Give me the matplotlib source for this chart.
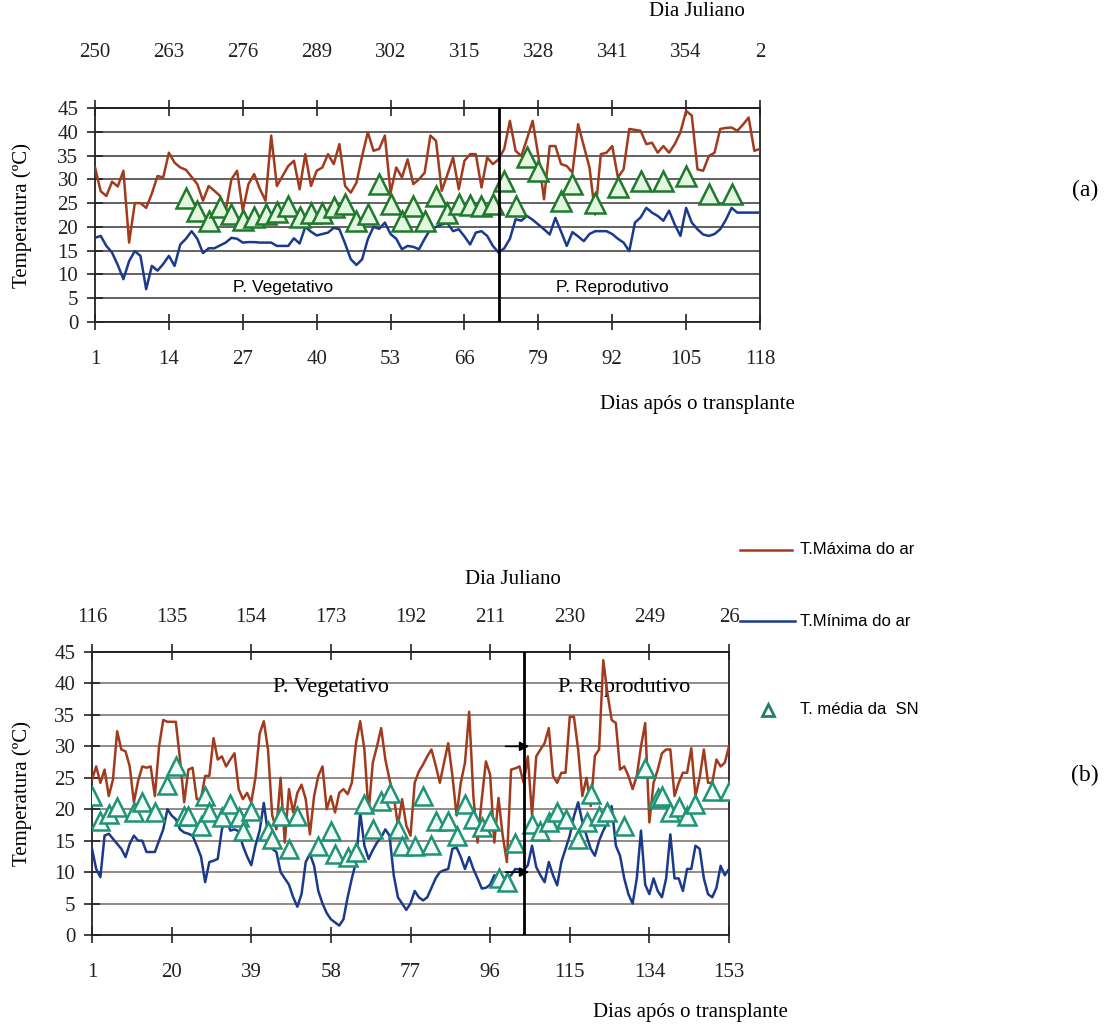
import numpy as np
import matplotlib
matplotlib.use("Agg")
import matplotlib.pyplot as plt
from matplotlib.lines import Line2D

# ---- panel (a): dias 1..118 (Dia Juliano 250..2) ----
dias_a = np.arange(1, 119)
tmax_a = [32.5, 27.5, 26.5, 29.5, 28.5, 31.8, 16.7, 25, 25, 24,
          27, 30.7, 30.4, 35.6, 33.5, 32.5, 32, 30.5, 29, 25.5,
          28.6, 27.6, 26.5, 23.4, 30, 31.8, 23.4, 29, 31.1, 28,
          25.5, 39.2, 28.6, 30.7, 32.8, 33.9, 27.9, 35.3, 28.6, 31.8,
          32.5, 35.3, 33.2, 37.4, 28.6, 27.2, 29.3, 34.9, 39.9, 36,
          36.4, 39.2, 27.2, 32.5, 30.4, 34.2, 29, 30, 31.4, 39.2,
          38.1, 27.6, 31, 34.6, 27.9, 33.9, 35.3, 35.3, 28.3, 34.6,
          33.2, 34.2, 36.4, 42.3, 36, 34.9, 38.5, 42.3, 34.9, 25.8,
          37, 37, 33.2, 32.8, 31.4, 41.6, 37, 32.5, 22.6, 35.3,
          35.6, 37, 30.4, 32.1, 40.6, 40.4, 40.2, 37.4, 37.7, 35.6,
          37, 35.6, 37.4, 39.9, 44.4, 43.4, 32.1, 31.8, 34.9, 35.6,
          40.6, 40.8, 40.9, 40.2, 41.5, 43, 36, 36.4]
tmin_a = [17.7, 18.1, 16, 14.6, 12, 9, 12.8, 14.9, 13.9, 6.9,
          11.8, 10.8, 12.2, 13.9, 11.8, 16.3, 17.5, 19.1, 17.5, 14.5,
          15.5, 15.5, 16.1, 16.7, 17.7, 17.5, 16.7, 16.8, 16.8, 16.7,
          16.7, 16.7, 16, 16, 16, 17.6, 16.5, 20, 19, 18.2,
          18.5, 18.8, 19.8, 19.5, 16.5, 13.2, 12, 13.2, 17.4, 20,
          19.6, 20.9, 18.5, 17.5, 15.3, 16, 15.8, 15.3, 17.5, 19.5,
          20, 20.5, 20.8, 19.1, 19.5, 18, 16.3, 18.8, 19.1, 18.1,
          16, 14.6, 15.5, 17.5, 21.6, 21.3, 22.3, 21.5, 20.5, 19.5,
          18.4, 21.9, 19, 16, 18.9, 18, 17, 18.5, 19.1, 19.1,
          19.1, 18.5, 17.5, 16.7, 14.9, 20.9, 22, 24, 23, 22.3,
          21.3, 23.4, 20.5, 18.1, 24, 20.9, 19.5, 18.4, 18.1, 18.5,
          19.5, 21.5, 24, 23, 23, 23, 23, 23]
sn_dias_a = [17, 19, 21, 23, 25, 27, 29, 31, 33, 35, 37, 39, 41, 43, 45, 47,
             49, 51, 53, 55, 57, 59, 61, 63, 65, 67, 69, 71, 73, 75, 77, 79,
             83, 85, 89, 93, 97, 101, 105, 109, 113]
sn_a = [26, 23.4, 21.3, 24.1, 22.7, 21.5, 22, 22.7, 23.1, 24.4, 22, 23, 23,
        24.1, 24.8, 21.3, 22.7, 29, 24.8, 21.3, 24.4, 21.3, 26.5, 23, 24.8,
        24.5, 24.4, 24.8, 29.7, 24.4, 34.6, 31.8, 25.5, 29, 25.1, 28.3, 29.7,
        29.7, 30.7, 26.9, 26.9]
ticks_a = [1, 14, 27, 40, 53, 66, 79, 92, 105, 118]
juliano_a = ["250", "263", "276", "289", "302", "315", "328", "341", "354", "2"]
divisa_a = 72

# ---- panel (b): dias 1..153 (Dia Juliano 116..268) ----
dias_b = np.arange(1, 154)
tmax_b = [24.7, 26.8, 24.2, 26.3, 22.1, 24.7, 32.4, 29.5, 29.2, 26.8,
          21.1, 24.5, 26.8, 26.6, 26.8, 22.1, 30, 34.2, 33.9, 33.9,
          33.9, 27.9, 21.1, 26.3, 26.6, 21.6, 21.6, 25.3, 25.3, 31.3,
          27.9, 28.4, 26.8, 27.9, 28.9, 23.2, 21.6, 22.6, 21.1, 25,
          32, 34, 29.5, 19, 16.8, 25, 14.7, 23.2, 19.5, 22.6,
          23.9, 21.6, 16, 22.1, 25.3, 26.8, 20, 22.1, 19.5, 22.6,
          23.2, 22.4, 24.2, 30.5, 34, 29.5, 19.5, 27.4, 30, 32.9,
          27.9, 24.7, 22.1, 17.4, 21.6, 17.4, 15.8, 24.2, 26, 27.1,
          28.4, 29.5, 27, 24.2, 27.4, 30.5, 25.3, 19, 24.2, 27.4,
          35.5, 22.1, 14.7, 21.6, 27.6, 25.5, 14.7, 21.8, 15.8, 11.6,
          26.3, 26.5, 26.8, 24.2, 28.4, 19, 28.4, 29.5, 30.5, 32.9,
          25.3, 24.2, 25.8, 25.8, 34.7, 34.7, 29.5, 22.1, 25, 20.5,
          28.5, 29.5, 43.7, 38.4, 34.2, 33.7, 26.3, 26.8, 25.3, 23.2,
          25.3, 30, 33.7, 17.9, 24.2, 26.3, 28.9, 29.5, 29.5, 22.1,
          24.2, 25.8, 25.8, 29.7, 22.1, 25, 29.5, 24.2, 24.2, 27.9,
          26.8, 27.4, 30]
tmin_b = [13.7, 10.5, 9.2, 15.8, 16.1, 15.3, 14.5, 13.7, 12.4, 14.5,
          15.8, 15, 15, 13.2, 13.2, 13.2, 15, 16.8, 20, 19,
          18.4, 16.8, 16.3, 16.1, 15.8, 14.2, 12.5, 8.4, 11.6, 11.8,
          12.1, 16.8, 18.9, 16.6, 16.8, 16.5, 14.2, 12.5, 11.1, 14.2,
          16.6, 21, 16, 13.7, 13.2, 10, 9, 8, 6, 4.5,
          6.5, 11.6, 12.9, 11, 7, 5, 3.5, 2.5, 2, 1.5,
          2.5, 6, 9, 11.6, 19.5, 14.2, 12.1, 13.5, 14.7, 15.5,
          16.8, 15.8, 9.5, 6, 5, 4, 5, 7, 6, 5.5,
          6, 7.5, 9, 10, 10.3, 10.5, 13.7, 13.9, 12.4, 10.5,
          12.4, 10.5, 9, 7.4, 7.5, 8, 9.5, 9.2, 9, 9.2,
          9.5, 10.5, 10.4, 10.3, 11.1, 14.2, 10.8, 9.5, 8.4, 11.6,
          9.5, 7.9, 11.6, 13.7, 15.8, 18.9, 21.1, 18, 15.8, 13.7,
          12.6, 15, 16.6, 17.9, 20.5, 14.2, 12.6, 9, 6.5, 5,
          9, 16.6, 8, 6.5, 9, 7, 6, 9, 16, 9,
          9, 7, 10.5, 10.5, 14.2, 13.7, 9, 6.5, 6, 7.5,
          11, 9.5, 10.5]
sn_dias_b = [1, 3, 5, 7, 11, 13, 16, 19, 21, 23, 24, 27, 28, 29, 32, 34, 36,
             37, 39, 43, 44, 46, 48, 50, 55, 58, 59, 62, 64, 66, 68, 70, 72,
             74, 75, 78, 80, 82, 83, 86, 88, 90, 92, 94, 96, 98, 100, 102,
             106, 108, 110, 112, 114, 117, 119, 120, 122, 124, 128, 133, 136,
             137, 139, 141, 143, 145, 149, 153]
sn_b = [22.1, 18.2, 19.2, 20.3, 19.5, 21.1, 19.5, 23.9, 26.8, 18.9, 18.9,
        17.4, 22.1, 19.5, 18.7, 20.8, 18.7, 16.6, 19.7, 16.6, 15.3, 19, 13.7,
        19, 14.2, 16.6, 12.9, 12.4, 13.2, 20.8, 16.8, 21.3, 22.6, 16.8, 14.2,
        14.2, 22.1, 14.3, 18.2, 18.2, 15.8, 20.8, 18.4, 17.1, 18.2, 9, 8.5,
        14.7, 17.6, 16.6, 17.9, 19.5, 18.4, 15.3, 17.9, 22.4, 18.9, 19.5,
        17.4, 26.6, 21.8, 22.1, 19.5, 20.3, 18.9, 20.8, 22.9, 22.9]
ticks_b = [1, 20, 39, 58, 77, 96, 115, 134, 153]
juliano_b = ["116", "135", "154", "173", "192", "211", "230", "249", "26"]
divisa_b = 104
setas_b = [30, 10]

yticks = list(range(0, 50, 5))

W, H = 1109, 1034
SERIF = ["Liberation Serif", "DejaVu Serif"]
SANS = ["Liberation Sans", "DejaVu Sans"]
plt.rcParams["font.family"] = SERIF

C_MAX = "#a23b1e"
C_MIN = "#1b3a8c"


def fx(x):
    return x / W


def fy(y):
    return 1 - y / H


fig = plt.figure(figsize=(W / 100, H / 100), dpi=100)


def painel(rect, dias, tmax, tmin, sd, sn, ticks, jul, div, top_pad,
           grid_color, tri_edge, tri_face, ms):
    l, t, r, b = rect
    ax = fig.add_axes([fx(l), fy(b), fx(r) - fx(l), fy(t) - fy(b)])
    ax.set_xlim(dias[0], dias[-1])
    ax.set_ylim(0, 45)
    ax.set_yticks(yticks)
    ax.set_xticks(ticks)
    ax.yaxis.grid(True, color=grid_color, lw=1.3)
    ax.set_axisbelow(True)
    ax.plot(dias, tmax, color=C_MAX, lw=1.8, zorder=3)
    ax.plot(dias, tmin, color=C_MIN, lw=1.8, zorder=3)
    ax.plot(sd, sn, ls="none", marker="^", ms=ms, mfc=tri_face,
            mec=tri_edge, mew=1.8, zorder=4)
    ax.axvline(div, color="black", lw=2, zorder=5)
    for s in ax.spines.values():
        s.set_color("#222222")
        s.set_linewidth(1.3)
    ax.tick_params(axis="both", direction="inout", length=12, width=1.2,
                   labelsize=15, colors="#222222")
    ax.tick_params(axis="x", pad=14)
    ax.tick_params(axis="y", pad=6)
    ax.set_xticklabels([str(v) for v in ticks])
    sec = ax.secondary_xaxis("top")
    sec.set_xticks(ticks, labels=jul)
    sec.tick_params(direction="inout", length=12, width=1.2, labelsize=15,
                    pad=top_pad, colors="#222222")
    sec.spines["top"].set_linewidth(1.3)
    return ax


ax_a = painel((95, 108, 760, 322), dias_a, tmax_a, tmin_a, sn_dias_a, sn_a,
              ticks_a, juliano_a, divisa_a, 27, "#555555", "#1f7a2c",
              "#e2f6e0", 14)
ax_a.text(34, 7.3, "P. Vegetativo", family=SANS, fontsize=12.5,
          ha="center", va="center")
ax_a.text(92, 7.3, "P. Reprodutivo", family=SANS, fontsize=12.5,
          ha="center", va="center")

ax_b = painel((92, 652, 729, 935), dias_b, tmax_b, tmin_b, sn_dias_b, sn_b,
              ticks_b, juliano_b, divisa_b, 12, "#8c7f7a", "#1f9376",
              "#f2fbf6", 13)
ax_b.text(58, 38.6, "P. Vegetativo", fontsize=16, ha="center",
          va="baseline", zorder=2)
ax_b.text(128, 38.6, "P. Reprodutivo", fontsize=16, ha="center",
          va="baseline", zorder=2)
for yv in setas_b:
    ax_b.annotate("", xy=(divisa_b + 2, yv), xytext=(divisa_b - 5, yv),
                  arrowprops=dict(arrowstyle="-|>", color="black", lw=1.2,
                                  mutation_scale=14), zorder=6)

# textos dos eixos
for yc, lab in [(190, "(a)"), (775, "(b)")]:
    fig.text(fx(1085), fy(yc), lab, fontsize=17, ha="center", va="center")
for (x, y) in [(697, 12), (513, 580)]:
    fig.text(fx(x), fy(y), "Dia Juliano", fontsize=15, ha="center",
             va="center")
for (x, y) in [(697, 405), (690, 1012)]:
    fig.text(fx(x), fy(y), "Dias após o transplante", fontsize=15,
             ha="center", va="center")
for yc in [215, 793]:
    fig.text(fx(22), fy(yc), "Temperatura (ºC)", fontsize=15, rotation=90,
             ha="center", va="center")

# legenda
fig.add_artist(Line2D([fx(740), fx(792)], [fy(550), fy(550)], color=C_MAX,
                      lw=1.8))
fig.text(fx(800), fy(550), "T.Máxima do ar", family=SANS, fontsize=12,
         va="center")
fig.add_artist(Line2D([fx(740), fx(795)], [fy(621), fy(621)], color=C_MIN,
                      lw=1.8))
fig.text(fx(800), fy(621), "T.Mínima do ar", family=SANS, fontsize=12,
         va="center")
fig.add_artist(Line2D([fx(768)], [fy(710)], ls="none", marker="^", ms=8,
                      mfc="white", mec="#1f7f66", mew=2))
fig.text(fx(800), fy(710), "T. média da  SN", family=SANS, fontsize=12,
         va="center")

fig.savefig("out.png", dpi=100)
